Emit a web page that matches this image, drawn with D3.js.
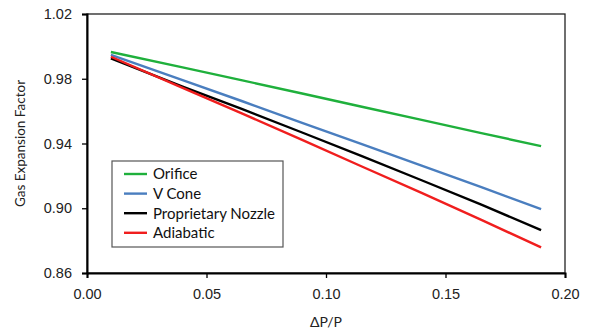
<!DOCTYPE html>
<html>
<head>
<meta charset="utf-8">
<script src="https://cdn.jsdelivr.net/npm/d3@7"></script>
<style>
  html, body { margin: 0; padding: 0; background: #fff; }
  svg { display: block; font-family: Lato, "Open Sans", "Liberation Sans", sans-serif; }
</style>
</head>
<body>
<svg id="chart" width="589" height="334"></svg>
<script>
// Pressure ratio ΔP/P at which each curve is sampled
const dpRatio = [0.01, 0.04, 0.065, 0.09, 0.115, 0.14, 0.165, 0.19];

// Gas expansion factor for each meter type
const orifice     = [0.9965, 0.9870, 0.9790, 0.9709, 0.9627, 0.9546, 0.9464, 0.9384];
const vCone       = [0.9947, 0.9792, 0.9661, 0.9528, 0.9396, 0.9264, 0.9130, 0.8995];
const proprietary = [0.9926, 0.9752, 0.9612, 0.9468, 0.9322, 0.9173, 0.9022, 0.8865];
const adiabatic   = [0.9936, 0.9744, 0.9585, 0.9422, 0.9258, 0.9095, 0.8928, 0.8758];

const seriesNames  = ["Orifice", "V Cone", "Proprietary Nozzle", "Adiabatic"];
const seriesColors = ["#1fb03c", "#4a7ebf", "#000000", "#f01e1e"];

const xTicks = [0, 0.05, 0.10, 0.15, 0.20];
const yTicks = [0.86, 0.90, 0.94, 0.98, 1.02];

const series = [orifice, vCone, proprietary, adiabatic].map((vals, i) => ({
  name: seriesNames[i],
  color: seriesColors[i],
  points: vals.map((v, j) => [dpRatio[j], v])
}));

const svg = d3.select("#chart");
const margin = { left: 87, right: 24, top: 14, bottom: 61 };
const W = 589, H = 334;

const x = d3.scaleLinear().domain([0, 0.20]).range([margin.left, W - margin.right]);
const y = d3.scaleLinear().domain([0.86, 1.02]).range([H - margin.bottom, margin.top]);

// Plot frame (top and right edges)
svg.append("rect")
  .attr("x", x(0)).attr("y", y(1.02))
  .attr("width", x(0.20) - x(0)).attr("height", y(0.86) - y(1.02))
  .attr("fill", "none").attr("stroke", "#222").attr("stroke-width", 1.3);

// Series lines
const line = d3.line().x(d => x(d[0])).y(d => y(d[1]));
svg.append("g").selectAll("path")
  .data(series)
  .join("path")
  .attr("d", d => line(d.points))
  .attr("fill", "none")
  .attr("stroke", d => d.color)
  .attr("stroke-width", 2.4)
  .attr("stroke-linejoin", "round");

// Y axis
const yAxis = svg.append("g")
  .attr("transform", `translate(${x(0)},0)`)
  .call(d3.axisLeft(y).tickValues(yTicks).tickFormat(d3.format(".2f")).tickSize(5).tickPadding(10));
yAxis.select(".domain").attr("stroke", "#000").attr("stroke-width", 2);
yAxis.selectAll(".tick line").attr("stroke", "#000").attr("stroke-width", 1.3);
yAxis.selectAll("text").attr("font-size", 14.5).attr("fill", "#222");

// X axis
const xAxis = svg.append("g")
  .attr("transform", `translate(0,${y(0.86)})`)
  .call(d3.axisBottom(x).tickValues(xTicks).tickFormat(d3.format(".2f")).tickSize(5).tickPadding(11));
xAxis.select(".domain").attr("stroke", "#000").attr("stroke-width", 2);
xAxis.selectAll(".tick line").attr("stroke", "#000").attr("stroke-width", 1.3);
xAxis.selectAll("text").attr("font-size", 14.5).attr("fill", "#222");

// Axis titles
svg.append("text")
  .attr("x", (x(0) + x(0.20)) / 2).attr("y", 327)
  .attr("text-anchor", "middle").attr("font-size", 14).attr("fill", "#222")
  .text("ΔP/P");

svg.append("text")
  .attr("transform", `translate(25,${(y(0.86) + y(1.02)) / 2}) rotate(-90)`)
  .attr("text-anchor", "middle").attr("font-size", 13.5).attr("fill", "#222")
  .text("Gas Expansion Factor");

// Legend
const legend = svg.append("g").attr("transform", "translate(112,161)");
legend.append("rect")
  .attr("width", 171).attr("height", 86)
  .attr("fill", "#fff").attr("stroke", "#555").attr("stroke-width", 1.2);
const items = legend.selectAll("g.item")
  .data(series)
  .join("g")
  .attr("class", "item")
  .attr("transform", (d, i) => `translate(0,${13 + i * 19.6})`);
items.append("line")
  .attr("x1", 12).attr("x2", 35)
  .attr("stroke", d => d.color).attr("stroke-width", 2.4);
items.append("text")
  .attr("x", 41).attr("dy", "0.36em")
  .attr("font-size", 15).attr("fill", "#111")
  .text(d => d.name);
</script>
</body>
</html>
